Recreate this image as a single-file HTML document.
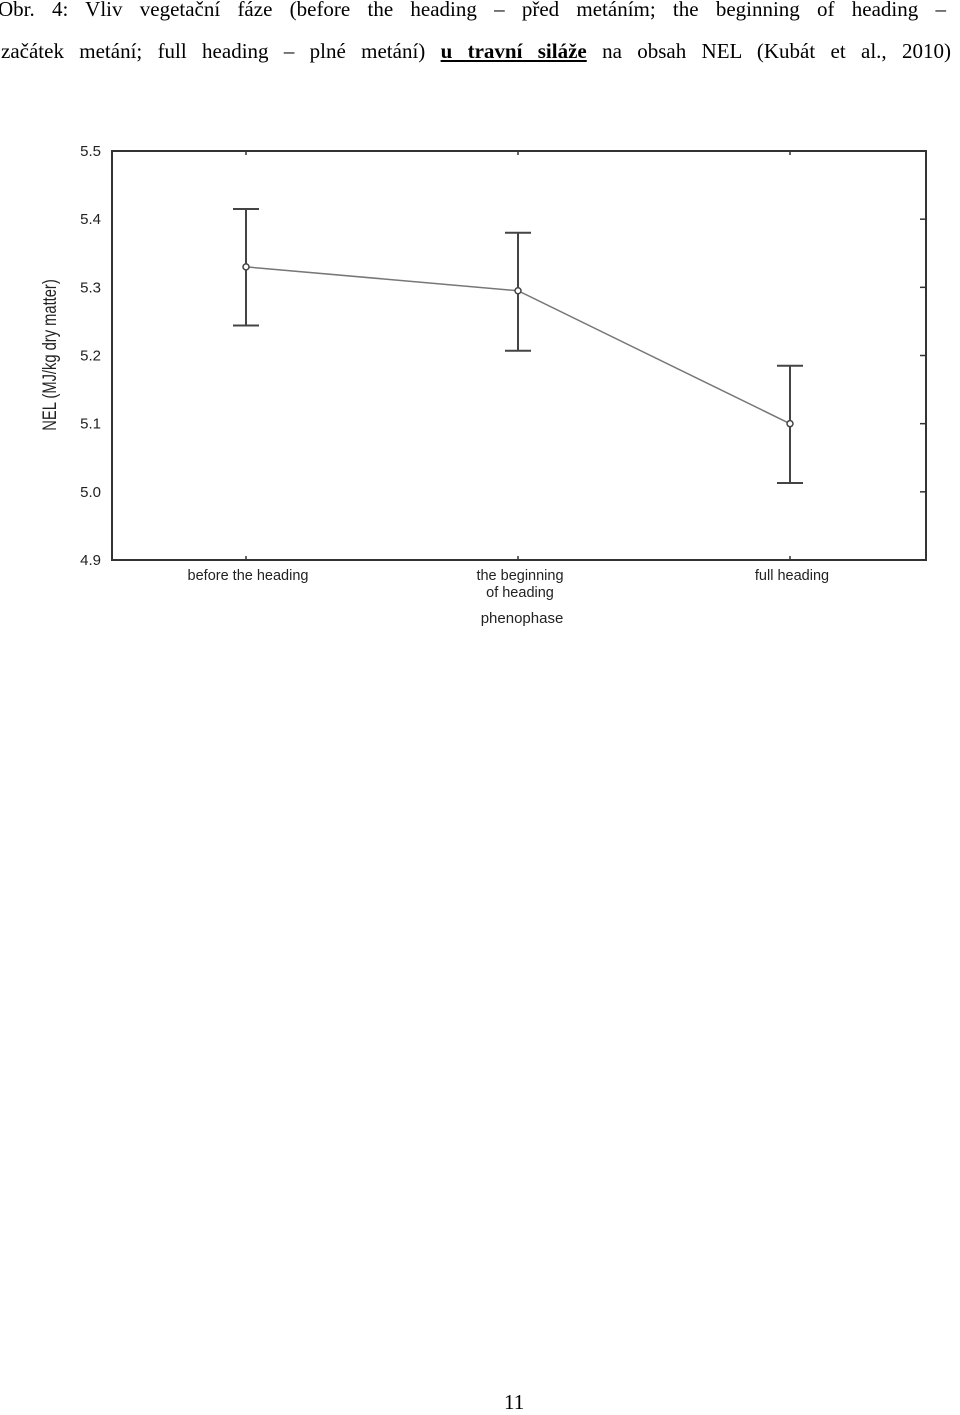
<!DOCTYPE html>
<html><head><meta charset="utf-8"><style>
body{margin:0;background:#fff;width:960px;height:1414px;position:relative;overflow:hidden}
.cap{position:absolute;left:0;font-family:"Liberation Serif",serif;font-size:21px;color:#000;white-space:nowrap}
.just{text-align:justify;text-align-last:justify;white-space:normal}
</style></head><body>
<div class="cap just" style="top:-3px;left:-2px;width:948px">Obr. 4: Vliv vegetační fáze (before the heading – před metáním; the beginning of heading –</div>
<div class="cap just" style="top:39px;left:1px;width:950px">začátek metání; full heading – plné metání) <b><u>u travní siláže</u></b> na obsah NEL (Kubát et al., 2010)</div>
<svg id="chart" width="960" height="700" style="position:absolute;left:0;top:0" font-family="Liberation Sans, sans-serif"></svg>
<div class="cap" style="top:1390px;left:504px">11</div>
<script>
const categories=["before the heading","the beginning|of heading","full heading"];
const means=[5.33,5.295,5.10];
const upper=[5.415,5.38,5.185];
const lower=[5.244,5.207,5.013];
const yTicks=[4.9,5.0,5.1,5.2,5.3,5.4,5.5];
const L=112,R=926,T=151,B=560,ymin=4.9,ymax=5.5;
const y=v=>B-(v-ymin)/(ymax-ymin)*(B-T);
const x=i=>246+i*(790-246)/(categories.length-1);
const svg=document.getElementById('chart');const NS='http://www.w3.org/2000/svg';
function mk(t,a){const e=document.createElementNS(NS,t);for(const k in a)e.setAttribute(k,a[k]);svg.appendChild(e);return e;}
let e=mk('rect',{x:L,y:T,width:R-L,height:B-T,fill:'none',stroke:'#333','stroke-width':2});


yTicks.forEach(v=>{
 let t=mk('text',{x:101,y:y(v)+5,'text-anchor':'end','font-size':15,fill:'#222'});t.textContent=v.toFixed(1);
 
 
 mk('line',{x1:R-6,x2:R,y1:y(v),y2:y(v),stroke:'#333','stroke-width':1.5});
});
categories.forEach((c,i)=>{
 mk('line',{x1:x(i),x2:x(i),y1:T,y2:T+4,stroke:'#333','stroke-width':1.5});
 mk('line',{x1:x(i),x2:x(i),y1:B-4,y2:B,stroke:'#333','stroke-width':1.5});
 c.split('|').forEach((s,j)=>{let t=mk('text',{x:x(i)+2,y:580+j*17,'text-anchor':'middle','font-size':14.5,fill:'#222'});t.textContent=s;
 
 });
});
let p=mk('polyline',{points:means.map((m,i)=>x(i)+','+y(m)).join(' '),fill:'none',stroke:'#777','stroke-width':1.5});


means.forEach((m,i)=>{
 let g=mk('line',{x1:x(i),x2:x(i),y1:y(upper[i]),y2:y(lower[i]),stroke:'#444','stroke-width':2});
 
 
 mk('line',{x1:x(i)-13,x2:x(i)+13,y1:y(upper[i]),y2:y(upper[i]),stroke:'#444','stroke-width':2});
 mk('line',{x1:x(i)-13,x2:x(i)+13,y1:y(lower[i]),y2:y(lower[i]),stroke:'#444','stroke-width':2});
 let c=mk('circle',{cx:x(i),cy:y(m),r:3,fill:'#fff',stroke:'#444','stroke-width':1.5});
 
 
});
let xt=mk('text',{x:522,y:623,'text-anchor':'middle','font-size':15,fill:'#222'});xt.textContent='phenophase';


let yt=mk('text',{x:0,y:0,'text-anchor':'middle','font-size':16,fill:'#222',transform:'translate(56,355) rotate(-90) scale(0.92,1.2)'});yt.textContent='NEL (MJ/kg dry matter)';


</script>
</body></html>
